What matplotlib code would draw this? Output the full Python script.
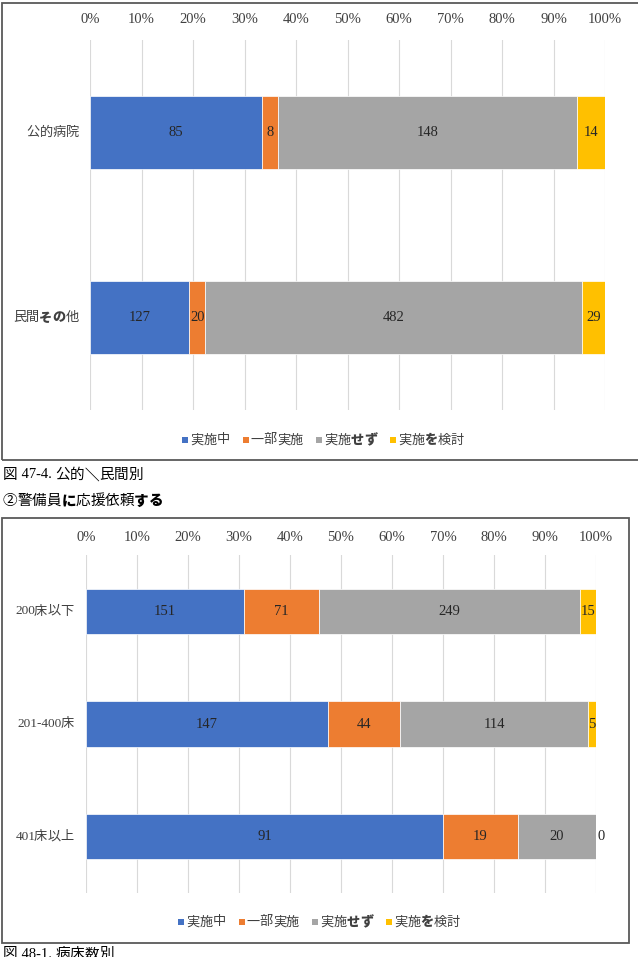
import matplotlib
matplotlib.use("Agg")
import matplotlib.pyplot as plt
from matplotlib.patches import Rectangle
from matplotlib.font_manager import FontProperties, findfont
from matplotlib.ft2font import FT2Font

plt.rcParams['font.family'] = ['Noto Sans CJK JP', 'DejaVu Sans']

# data
series = ["実施中", "一部実施", "実施せず", "実施を検討"]
colors = ["#4472C4", "#ED7D31", "#A5A5A5", "#FFC000"]

cats1 = ["公的病院", "民間その他"]
vals1 = [[85, 127], [8, 20], [148, 482], [14, 29]]

cats2 = ["200床以下", "201-400床", "401床以上"]
vals2 = [[151, 147, 91], [71, 44, 19], [249, 114, 20], [15, 5, 0]]

ticks = [0, 0.1, 0.2, 0.3, 0.4, 0.5, 0.6, 0.7, 0.8, 0.9, 1.0]
tick_labels = ["0%", "10%", "20%", "30%", "40%", "50%", "60%", "70%", "80%", "90%", "100%"]

W, H = 638, 957
fig = plt.figure(figsize=(W / 100, H / 100), dpi=100)

GOTHIC = ['Noto Sans CJK JP', 'DejaVu Sans']
SERIF = ["Liberation Serif", "Noto Sans CJK JP"]
_fonts = {}


def get_font(fam):
    if fam not in _fonts:
        _fonts[fam] = FT2Font(findfont(FontProperties(family=fam)))
    return _fonts[fam]


def is_wide(ch):
    return ord(ch) >= 0x2460


def is_heavy(ch):
    # hiragana and the reverse solidus come out heavier in the original
    return "\u3040" <= ch <= "\u309f" or ch == "\uff3c"


def char_adv(c, families, size):
    if is_wide(c):
        return size * 100 / 72
    for fam in families:
        f = get_font(fam)
        if ord(c) in f.get_charmap():
            f.set_size(size, 100)
            return f.load_char(ord(c)).linearHoriAdvance / 65536
    return size * 100 / 72 * 0.5


def text_width(s, size, family=None):
    fam = family or GOTHIC
    return sum(char_adv(c, fam, size) for c in s)


def mixed_text(x, y, s, size, ha="left", color="#404040", family=None):
    fam = family or GOTHIC
    total = text_width(s, size, fam)
    if ha == "right":
        x = x - total
    elif ha == "center":
        x = x - total / 2
    yy = 1 - y / H
    run, run_x = "", x
    prev_ascii = False
    for c in s + "\u3000":
        a = char_adv(c, fam, size)
        if is_wide(c):
            if run:
                fig.text(run_x / W, yy, run, fontsize=size, va="center", ha="left",
                         color=color, family=fam)
                run = ""
            if prev_ascii and run_x > 0:
                x -= 1.5
            if c != "\u3000":
                fig.text((x + a / 2) / W, yy, c, fontsize=size, va="center", ha="center",
                         color=color, family=['Noto Sans CJK JP'],
                         fontweight="black" if is_heavy(c) else "normal")
            prev_ascii = False
        else:
            if not run:
                run_x = x
            run += c
            prev_ascii = c != " "
        x += a


def stacked(ax, cats, vals, height, pad_tick, box, cat_right):
    n = len(cats)
    totals = [sum(v[i] for v in vals) for i in range(n)]
    ypos = list(range(n))
    left = [0.0] * n
    for k, v in enumerate(vals):
        frac = [v[i] / totals[i] for i in range(n)]
        ax.barh(ypos, frac, left=left, height=height, color=colors[k],
                edgecolor="white", linewidth=0.5, zorder=2)
        for i in range(n):
            if v[i] == 0:
                ax.text(left[i] + frac[i] + 0.003, ypos[i], str(v[i]), ha="left", va="center",
                        family="Liberation Serif", fontsize=10.5, color="#262626", zorder=3)
            else:
                ax.text(left[i] + frac[i] / 2, ypos[i], str(v[i]), ha="center", va="center",
                        family="Liberation Serif", fontsize=10.5, color="#262626", zorder=3)
        left = [left[i] + frac[i] for i in range(n)]
    ax.set_xlim(0, 1)
    ax.set_ylim(n - 0.5, -0.5)
    ax.set_yticks([])
    ax.set_xticks(ticks)
    ax.set_xticklabels(tick_labels, family="Liberation Serif", fontsize=10.5, color="#404040")
    ax.xaxis.tick_top()
    ax.tick_params(axis="x", length=0, pad=pad_tick)
    ax.grid(axis="x", color="#D9D9D9", linewidth=0.8, zorder=0)
    ax.set_axisbelow(True)
    for s in ax.spines.values():
        s.set_visible(False)
    # category labels
    l, t, r, b = box
    step = (b - t) / n
    for i, c in enumerate(cats):
        mixed_text(cat_right, t + step * (i + 0.5), c, 9.5, ha="right",
                   family=SERIF if c[0].isdigit() else None)


box1 = (90, 40, 605, 410)
ax1 = fig.add_axes([90 / W, 1 - 410 / H, 515 / W, 370 / H])
stacked(ax1, cats1, vals1, 0.39, 10, box1, 79)

box2 = (86, 555, 596, 893)
ax2 = fig.add_axes([86 / W, 1 - 893 / H, 510 / W, 338 / H])
stacked(ax2, cats2, vals2, 0.40, 8, box2, 75)


def legend(xc, yc):
    sq = 6
    gap = 2
    spacing = 13
    widths = [text_width(s, 9.5) for s in series]
    total = sum(sq + gap + w for w in widths) + spacing * (len(series) - 1)
    x = xc - total / 2
    for s, c, w in zip(series, colors, widths):
        fig.patches.append(Rectangle((x / W, 1 - (yc + sq / 2) / H), sq / W, sq / H,
                                     transform=fig.transFigure, facecolor=c, edgecolor="none"))
        mixed_text(x + sq + gap, yc, s, 9.5)
        x += sq + gap + w + spacing


legend(323, 440)
legend(319, 922)

# frames
fig.patches.append(Rectangle((1.5 / W, 1 - 460 / H), 640 / W, 457 / H, transform=fig.transFigure,
                             fill=False, edgecolor="#595959", linewidth=1.3))
fig.patches.append(Rectangle((2.5 / W, 1 - 943 / H), 626.5 / W, 425 / H, transform=fig.transFigure,
                             fill=False, edgecolor="#595959", linewidth=1.3))

# captions
mixed_text(3, 475, "図 47-4. 公的＼民間別", 10.5, color="black", family=SERIF)
mixed_text(3, 501, "②警備員に応援依頼する", 10.5, color="black")
mixed_text(3, 954, "図 48-1. 病床数別", 10.5, color="black", family=SERIF)

fig.savefig("out.png", dpi=100)
